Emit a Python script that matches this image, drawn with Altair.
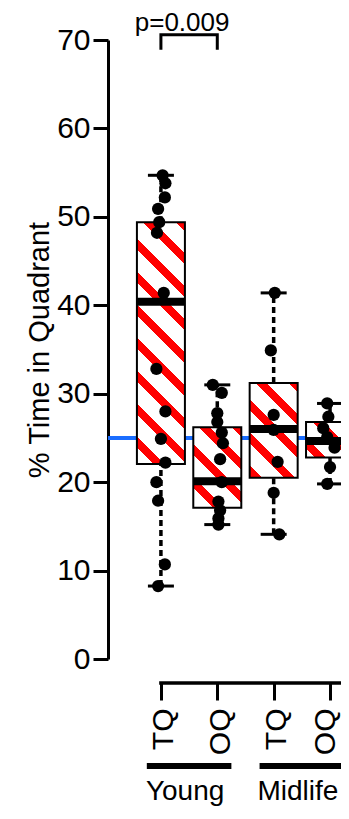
import json
import math

import altair as alt
import pandas as pd

# ---------------- data ----------------
categories = ["TQ", "OQ", "TQ", "OQ"]
age_groups = ["Young", "Young", "Midlife", "Midlife"]

whisker_low = [8.25, 15.2, 14.1, 19.8]
box_q1 = [22.05, 17.1, 20.5, 22.8]
box_median = [40.4, 20.1, 26.0, 24.65]
box_q3 = [49.4, 26.2, 31.2, 26.8]
whisker_high = [54.7, 31.0, 41.4, 28.9]

young_tq = [54.7, 53.8, 52.2, 50.9, 49.4, 48.2, 41.4, 32.8, 28.0, 24.9, 22.2, 20.0, 17.9, 10.7, 8.25]
young_tq_jitter = [0.03, 0.08, 0.07, -0.05, -0.03, -0.07, 0.05, -0.08, 0.08, 0.0, 0.08, -0.08, -0.05, 0.07, -0.05]
young_oq = [31.0, 30.1, 27.8, 26.8, 25.6, 24.4, 22.6, 20.0, 17.8, 16.8, 15.9, 15.2]
young_oq_jitter = [-0.08, 0.08, 0.0, 0.0, 0.08, 0.1, 0.05, 0.08, 0.02, 0.05, 0.02, 0.02]
midlife_tq = [41.4, 34.9, 27.6, 25.9, 22.3, 18.8, 14.1]
midlife_tq_jitter = [0.02, -0.05, 0.0, 0.0, 0.07, 0.0, 0.1]
midlife_oq = [28.9, 27.4, 26.1, 25.1, 23.9, 21.7, 19.8]
midlife_oq_jitter = [-0.05, -0.03, -0.12, -0.05, 0.08, 0.0, -0.05]

chance_level = 25
y_ticks = [0, 10, 20, 30, 40, 50, 60, 70]
p_text = "p=0.009"
p_pair = [0, 1]
p_level = 70.6
y_title = "% Time in Quadrant"

# ---------------- layout / style ----------------
FONT = "Liberation Sans"
W_PLOT = 233
H_PLOT = 619
Y_DOMAIN = [0, 70]
PPU_X = 58.9
X_DOMAIN = [-0.85, -0.85 + W_PLOT / PPU_X]
PPU_Y = H_PLOT / (Y_DOMAIN[1] - Y_DOMAIN[0])
BOX_W = 48
BLUE = "#1a6dff"
RED = "#ff0000"
AXIS_OFFSET = 24
LAST_IDX = len(categories) - 1

# ---------------- tables ----------------
boxes = pd.DataFrame({
    "idx": list(range(len(categories))),
    "low": whisker_low, "q1": box_q1, "med": box_median,
    "q3": box_q3, "high": whisker_high,
})

pt_rows = []
for i, (vals, jit) in enumerate([(young_tq, young_tq_jitter), (young_oq, young_oq_jitter),
                                 (midlife_tq, midlife_tq_jitter), (midlife_oq, midlife_oq_jitter)]):
    for v, j in zip(vals, jit):
        pt_rows.append({"idx": i, "value": v, "jit": j})
points = pd.DataFrame(pt_rows)

grp_rows = []
for g in dict.fromkeys(age_groups):
    members = [i for i, a in enumerate(age_groups) if a == g]
    grp_rows.append({"name": g, "start": min(members), "end": max(members)})
groups = pd.DataFrame(grp_rows)

# ---------------- scales / axes ----------------
xs = alt.Scale(domain=X_DOMAIN, nice=False, zero=False)
ys = alt.Scale(domain=Y_DOMAIN, nice=False, zero=True)
xaxis = alt.Axis(
    title=None, values=list(range(len(categories))),
    labelExpr=f"{json.dumps(categories)}[datum.value]",
    orient="bottom", offset=AXIS_OFFSET, domain=False, grid=False,
    tickSize=17, tickWidth=3, tickColor="black",
    labelAngle=270, labelAlign="right", labelBaseline="middle",
    labelFont=FONT, labelFontSize=30, labelColor="black",
    labelPadding=8,
    labelOffset={"condition": {"test": f"datum.value == {LAST_IDX}", "value": -5}, "value": 3},
    labelFlush=False, labelOverlap=False, labelBound=False,
)
yaxis = alt.Axis(
    title=y_title, values=y_ticks, grid=False,
    domainWidth=3, domainColor="black", tickSize=15, tickWidth=3, tickColor="black",
    labelFont=FONT, labelFontSize=30, labelColor="black", labelPadding=3,
    titleFont=FONT, titleFontSize=29, titleFontWeight="normal", titleColor="black",
    titlePadding=2,
)


def X(f):
    return alt.X(f, type="quantitative", scale=xs, axis=xaxis)


def Y(f):
    return alt.Y(f, type="quantitative", scale=ys, axis=yaxis)


def stripe_gradient(h_px, w_px, period=33.0, red=11.0, phase=6.0):
    r = h_px / w_px
    s = (1 + r) / (1 + r * r)
    total = w_px + h_px
    stops = [{"offset": 0, "color": "white"}]
    k = -math.ceil((h_px + phase) / period) - 1
    while True:
        a = h_px + phase + k * period
        if a > total:
            break
        b = a + red
        if b > 0:
            o1 = min(max(a / total, 0), 1)
            o2 = min(max(b / total, 0), 1)
            stops += [{"offset": o1, "color": "white"}, {"offset": o1, "color": RED},
                      {"offset": o2, "color": RED}, {"offset": o2, "color": "white"}]
        k += 1
    stops.append({"offset": 1, "color": "white"})
    return {"gradient": "linear", "x1": 0, "y1": 1, "x2": s, "y2": 1 - s * r, "stops": stops}


layers = []

# chance level line
layers.append(
    alt.Chart(pd.DataFrame({"v": [chance_level]}))
    .mark_rule(color=BLUE, strokeWidth=4)
    .encode(y=Y("v"))
)

# whiskers
base = alt.Chart(boxes)
layers.append(base.mark_rule(color="black", strokeWidth=3.5, strokeDash=[6, 4], clip=True)
              .encode(x=X("idx"), y=Y("q3"), y2=alt.Y2("high")))
layers.append(base.mark_rule(color="black", strokeWidth=3.5, strokeDash=[6, 4], clip=True)
              .encode(x=X("idx"), y=Y("low"), y2=alt.Y2("q1")))

# hatched boxes
for i in range(len(categories)):
    h_px = (box_q3[i] - box_q1[i]) * PPU_Y
    layers.append(
        base.transform_filter(alt.datum.idx == i)
        .mark_bar(size=BOX_W, fill=stripe_gradient(h_px, BOX_W), stroke="black",
                  strokeWidth=2, clip=True)
        .encode(x=X("idx"), y=Y("q1"), y2=alt.Y2("q3"))
    )

# whisker caps
for fld in ["high", "low"]:
    layers.append(base.mark_tick(orient="horizontal", size=26, thickness=3, color="black",
                                 opacity=1, clip=True)
                  .encode(x=X("idx"), y=Y(fld)))

# points
layers.append(
    alt.Chart(points).transform_calculate(xpos="datum.idx + datum.jit")
    .mark_circle(size=150, color="black", opacity=1, clip=True)
    .encode(x=X("xpos"), y=Y("value"))
)

# medians
layers.append(base.mark_tick(orient="horizontal", size=BOX_W, thickness=8, color="black",
                             opacity=1, clip=True)
              .encode(x=X("idx"), y=Y("med")))

# p-value bracket
leg = 15 / PPU_Y
bracket = pd.DataFrame({
    "x": [p_pair[0], p_pair[0], p_pair[1], p_pair[1]],
    "y": [p_level - leg, p_level, p_level, p_level - leg],
    "o": [0, 1, 2, 3],
})
layers.append(alt.Chart(bracket).mark_line(color="black", strokeWidth=3, strokeJoin="miter")
              .encode(x=X("x"), y=Y("y"), order="o:Q"))
layers.append(
    alt.Chart(pd.DataFrame({"x": [sum(p_pair) / 2], "y": [p_level], "t": [p_text]}))
    .mark_text(font=FONT, fontSize=26, color="black", baseline="alphabetic", align="center",
               dy=-4, dx=-7)
    .encode(x=X("x"), y=Y("y"), text="t:N")
)

# x axis line (from first category to the right)
layers.append(
    alt.Chart(pd.DataFrame({"a": [0], "b": [X_DOMAIN[1] + 0.3]}))
    .mark_rule(color="black", strokeWidth=3.5, strokeCap="square")
    .encode(x=X("a"), x2=alt.X2("b"), y=alt.value(H_PLOT + AXIS_OFFSET))
)

# age group bars + labels
gbase = alt.Chart(groups).transform_calculate(
    gx="datum.start - 0.25", gx2="datum.end + 0.25", gc="(datum.start + datum.end) / 2")
layers.append(gbase.mark_rule(color="black", strokeWidth=6)
              .encode(x=X("gx:Q"), x2=alt.X2("gx2"), y=alt.value(H_PLOT + 107)))
layers.append(gbase.mark_text(font=FONT, fontSize=28, color="black", baseline="alphabetic",
                              align="center", dx=-4)
              .encode(x=X("gc:Q"), y=alt.value(H_PLOT + 141), text="name:N"))

# overall bar below all age groups
layers.append(
    alt.Chart(pd.DataFrame({"a": [groups["start"].min() - 0.25], "b": [groups["end"].max() + 0.25]}))
    .mark_rule(color="black", strokeWidth=6)
    .encode(x=X("a"), x2=alt.X2("b"), y=alt.value(H_PLOT + 157))
)

chart = (
    alt.layer(*layers)
    .properties(width=W_PLOT, height=H_PLOT, autosize="none",
                padding={"left": 100, "top": 32, "right": 0, "bottom": 151},
                background="white")
    .configure_view(stroke=None)
)

chart.save("out.html", embed_options={"renderer": "svg", "actions": False})
